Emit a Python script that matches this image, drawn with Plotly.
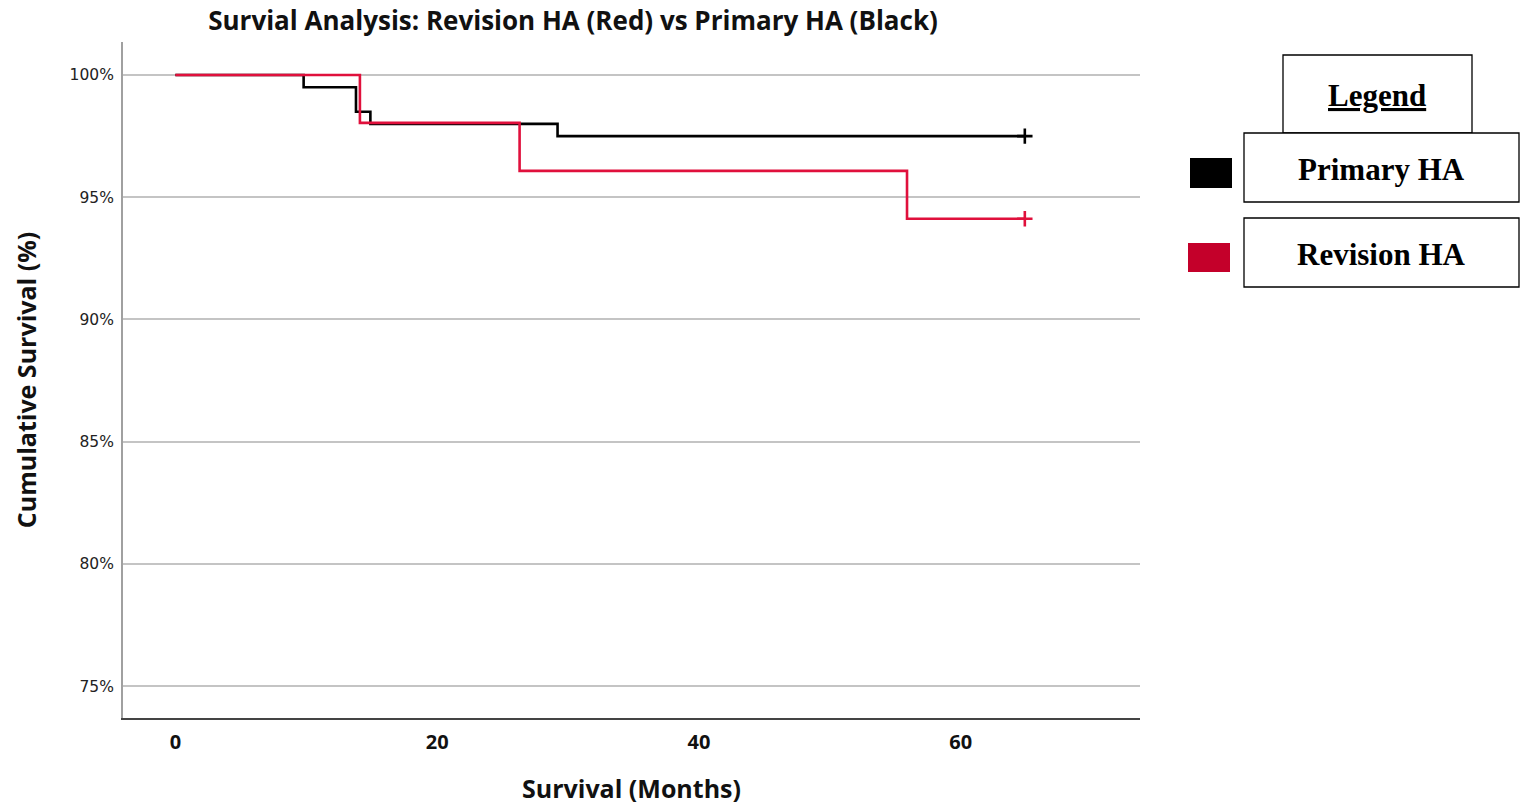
import plotly.graph_objects as go

# Data (Kaplan-Meier step values, months vs cumulative survival %)
primary_months = [0, 9.8, 13.8, 14.9, 29.2, 64.9]
primary_surv = [100.0, 99.5, 98.5, 98.0, 97.5, 97.5]
revision_months = [0, 14.1, 26.3, 55.9, 64.9]
revision_surv = [100.0, 98.04, 96.08, 94.12, 94.12]
y_ticks = [75, 80, 85, 90, 95, 100]
y_tick_labels = ["75%", "80%", "85%", "90%", "95%", "100%"]
x_ticks = [0, 20, 40, 60]

W, H = 1527, 805
L, R, T, B = 123, 387, 42, 87
PW, PH = W - L - R, H - T - B

def px(x):
    return (x - L) / PW

def py(y):
    return (H - B - y) / PH

BLACK = "#000000"
RED = "#e0103c"

fig = go.Figure()
fig.add_trace(go.Scatter(x=primary_months, y=primary_surv, mode="lines",
                         line=dict(color=BLACK, width=2.6, shape="hv"),
                         showlegend=False, hoverinfo="skip"))
fig.add_trace(go.Scatter(x=revision_months, y=revision_surv, mode="lines",
                         line=dict(color=RED, width=2.6, shape="hv"),
                         showlegend=False, hoverinfo="skip"))
# censor markers
fig.add_trace(go.Scatter(x=[primary_months[-1]], y=[primary_surv[-1]], mode="markers",
                         marker=dict(symbol="cross-thin", size=11, line=dict(color=BLACK, width=2.6)),
                         showlegend=False, hoverinfo="skip"))
fig.add_trace(go.Scatter(x=[revision_months[-1]], y=[revision_surv[-1]], mode="markers",
                         marker=dict(symbol="cross-thin", size=11, line=dict(color=RED, width=2.6)),
                         showlegend=False, hoverinfo="skip"))

shapes = []
annotations = []

# Legend boxes (drawn in paper coordinates, converted from pixel layout)
def box(x0, y0, x1, y1):
    shapes.append(dict(type="rect", xref="paper", yref="paper",
                       x0=px(x0), x1=px(x1), y0=py(y1), y1=py(y0),
                       line=dict(color="black", width=1.3), fillcolor="white", layer="above"))

def swatch(x0, y0, x1, y1, color):
    shapes.append(dict(type="rect", xref="paper", yref="paper",
                       x0=px(x0), x1=px(x1), y0=py(y1), y1=py(y0),
                       line=dict(width=0), fillcolor=color, layer="above"))

box(1283, 55, 1472, 133)
box(1244, 133, 1519, 202)
box(1244, 218, 1519, 287)
swatch(1190, 158, 1232, 188, "#000000")
swatch(1188, 243, 1230, 272, "#c4002a")

serif = "Liberation Serif"
annotations.append(dict(xref="paper", yref="paper", x=px(1377), y=py(96), text="<b><u>Legend</u></b>",
                        showarrow=False, font=dict(family=serif, size=31, color="black"),
                        xanchor="center", yanchor="middle"))
annotations.append(dict(xref="paper", yref="paper", x=px(1381), y=py(169), text="<b>Primary HA</b>",
                        showarrow=False, font=dict(family=serif, size=31, color="black"),
                        xanchor="center", yanchor="middle"))
annotations.append(dict(xref="paper", yref="paper", x=px(1381), y=py(254), text="<b>Revision HA</b>",
                        showarrow=False, font=dict(family=serif, size=31, color="black"),
                        xanchor="center", yanchor="middle"))

sans = "Open Sans"
fig.update_layout(
    width=W, height=H,
    margin=dict(l=L, r=R, t=T, b=B, autoexpand=False),
    paper_bgcolor="white", plot_bgcolor="white",
    title=dict(text="<b>Survial Analysis: Revision HA (Red) vs Primary HA (Black)</b>",
               x=px(573), xref="paper", xanchor="center", y=1 - 21 / H, yanchor="middle",
               font=dict(family=sans, size=26, color="#111111")),
    xaxis=dict(range=[-4, 73.7], tickvals=x_ticks, ticktext=["<b>%d</b>" % v for v in x_ticks],
               automargin=False,
               showgrid=False, zeroline=False, showline=True, linecolor="#444444", linewidth=2,
               ticks="outside", ticklen=5, tickcolor="rgba(0,0,0,0)",
               tickfont=dict(family=sans, size=20, color="#111111"),
               title=dict(text="<b>Survival (Months)</b>", font=dict(family=sans, size=25, color="#111111"),
                          standoff=26)),
    yaxis=dict(range=[73.7, 101.35], tickvals=y_ticks, ticktext=y_tick_labels,
               automargin=False,
               showgrid=True, gridcolor="#c4c4c4", gridwidth=1.5, zeroline=False,
               showline=True, linecolor="#a0a0a0", linewidth=2,
               ticks="outside", ticklen=4, tickcolor="rgba(0,0,0,0)",
               tickfont=dict(family="DejaVu Sans", size=15.5, color="#222222"),
               title=dict(text="<b>Cumulative Survival (%)</b>", font=dict(family=sans, size=25, color="#111111"),
                          standoff=26)),
    shapes=shapes, annotations=annotations,
)

fig.write_html("out.html", config={"displayModeBar": False},
               post_script="document.body.style.margin='0';")
